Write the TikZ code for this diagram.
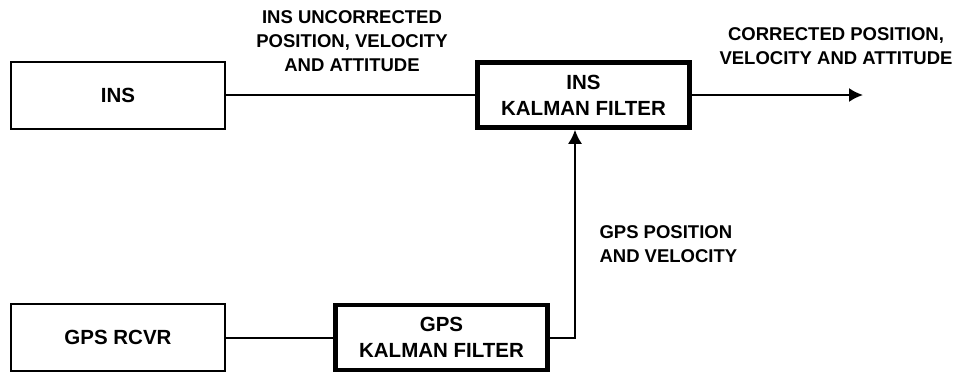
\documentclass[tikz,border=0pt]{standalone}
\usepackage{fontspec}
\setsansfont{Liberation Sans}
\usetikzlibrary{arrows.meta}
\tikzset{every node/.style={font=\sffamily\bfseries},line cap=round,line join=round}
\tikzset{
  unit/.style={draw,line width=2pt,minimum width=214pt,minimum height=67pt,inner sep=0pt,
    align=center,font=\sffamily\bfseries\fontsize{20.5}{26}\selectfont},
  filter/.style={unit,line width=4.5pt,minimum width=212pt,minimum height=65pt},
  sig/.style={line width=2pt},
  caption/.style={align=center,font=\sffamily\bfseries\fontsize{18.5}{24}\selectfont}
}

\begin{document}
\begin{tikzpicture}[x=1pt,y=-1pt]
  \path[use as bounding box] (0,0) rectangle (962,373);
  % blocks
  \node[unit] (ins) at (118,95) {INS};
  \node[filter] (ikf) at (583.5,95) {INS\\KALMAN FILTER};
  \node[unit] (rcvr) at (118,337.5) {GPS RCVR};
  \node[filter] (gkf) at (441.5,337.5) {GPS\\KALMAN FILTER};
  \coordinate (out) at (863,95);
  \coordinate (turn) at (575,337.5);
  % signals
  \draw[sig] (ins) -- (ikf);
  \draw[sig,-{Latex[length=14pt,width=14pt]}] (ikf) -- (out);
  \draw[sig] (rcvr) -- (gkf);
  \draw[sig,-{Latex[length=14pt,width=14pt]}] (gkf) -- (turn) -- (turn |- ikf.south);
  % labels
  \node[caption] (lunc) at (352,41) {INS UNCORRECTED\\POSITION, VELOCITY\\AND ATTITUDE};
  \node[caption] (lcor) at (836,46) {CORRECTED POSITION,\\VELOCITY AND ATTITUDE};
  \node[caption,align=left,anchor=west] (lgps) at (596,244) {GPS POSITION\\AND VELOCITY};
\end{tikzpicture}
\end{document}
